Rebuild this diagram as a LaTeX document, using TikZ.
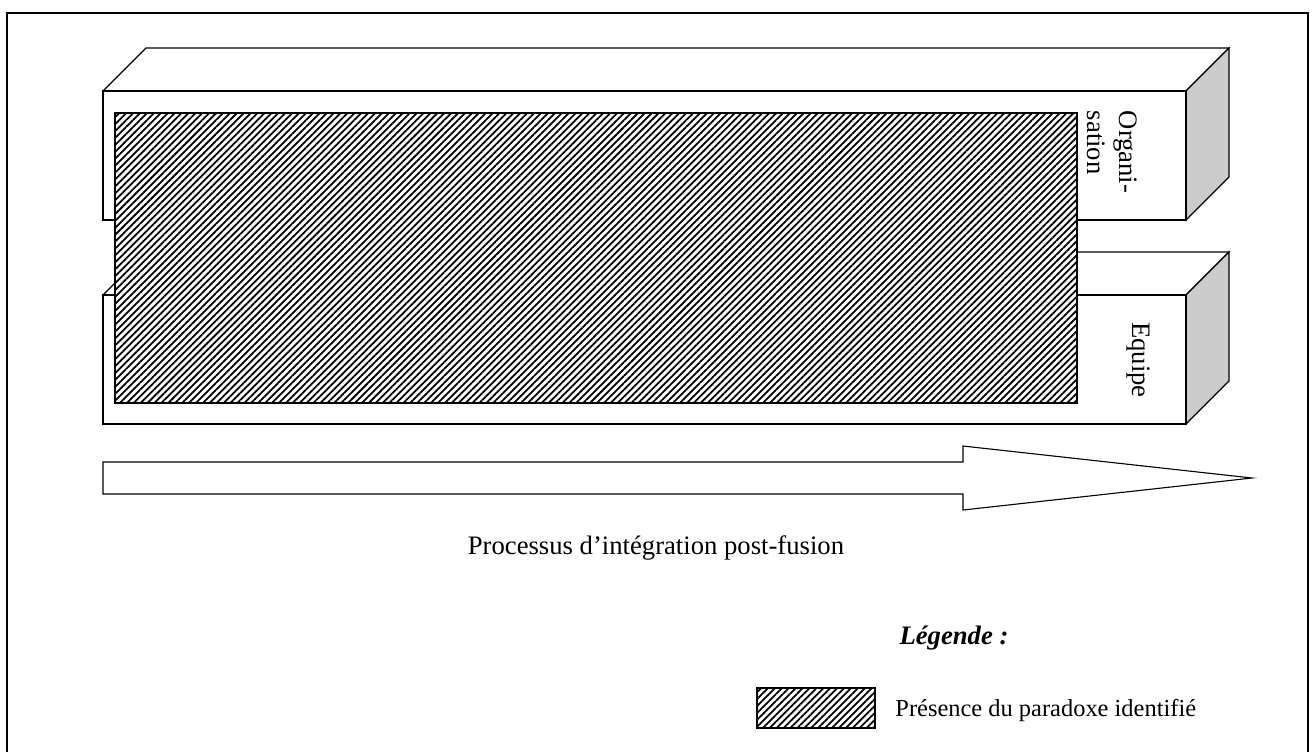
\documentclass[tikz,border=0pt,12pt]{standalone}
\usepackage{fontspec}
\setmainfont{Liberation Serif}
\usetikzlibrary{patterns.meta}

\begin{document}
\begin{tikzpicture}[x=0.45pt, y=-0.45pt, line width=0.5pt,
    face/.style={draw, fill=white},
    side/.style={draw, fill=black!20},
    hatch/.style={draw, preaction={fill=white},
      pattern={Lines[angle=45, distance=2.2pt, line width=0.8pt]}}]
  \useasboundingbox (0,0) rectangle (1314,751);
  \clip (0,0) rectangle (1314,751);
  \draw[line width=1pt] (7,13) rectangle (1308,790);

  % Organisation
  \draw[face] (103,91) -- (146,48) -- (1229,48) -- (1186,91) -- cycle;
  \draw[side] (1186,91) -- (1229,48) -- (1229,177) -- (1186,220) -- cycle;
  \draw[face] (103,91) rectangle (1186,220);

  % Equipe
  \draw[face] (103,295) -- (146,252) -- (1229,252) -- (1186,295) -- cycle;
  \draw[side] (1186,295) -- (1229,252) -- (1229,381) -- (1186,424) -- cycle;
  \draw[face] (103,295) rectangle (1186,424);

  \draw[hatch, line width=1pt] (115,113) rectangle (1077,403);

  \node[rotate=-90, align=left] (orga) at (1112,152) {Organi-\\sation};
  \node[rotate=-90] (equipe) at (1138,360) {Equipe};

  % process arrow
  \draw[face] (103,462) -- (963,462) -- (963,446) -- (1252,478)
    -- (963,510) -- (963,494) -- (103,494) -- cycle;
  \node (process) at (656,548) {Processus d'intégration post-fusion};

  % legend
  \node[font=\bfseries\itshape] (legende) at (954,638) {Légende :};
  \draw[hatch] (757,688) rectangle (875,728);
  \node[anchor=west, font=\fontsize{11}{13}\selectfont] (legtext) at (886,710)
    {Présence du paradoxe identifié};
\end{tikzpicture}
\end{document}
